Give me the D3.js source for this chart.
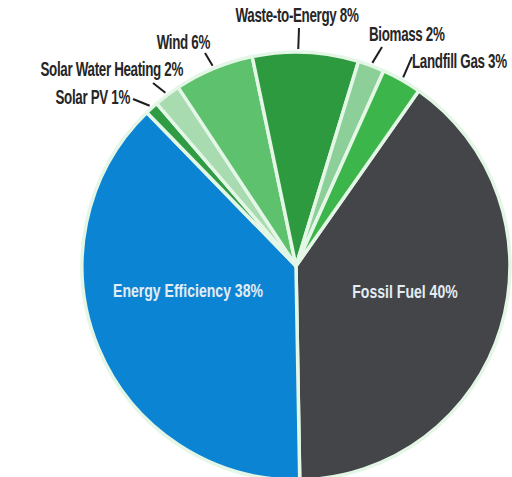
<!DOCTYPE html>
<html>
<head>
<meta charset="utf-8">
<script src="https://cdn.jsdelivr.net/npm/d3@7"></script>
<style>
  html, body { margin: 0; padding: 0; background: #ffffff; }
  svg { display: block; }
</style>
</head>
<body>
<svg id="chart" width="512" height="477"></svg>
<script>
// Energy mix shares, in drawing order (clockwise)
const categories = ["Fossil Fuel", "Energy Efficiency", "Solar PV", "Solar Water Heating",
                    "Wind", "Waste-to-Energy", "Biomass", "Landfill Gas"];
const shares = [40, 38, 1, 2, 6, 8, 2, 3];
const sliceColors = ["#434549", "#0b84d4", "#2f9c45", "#a8dbb0",
                     "#5dc16e", "#2e9a40", "#8ccf98", "#3cb54b"];

const width = 512, height = 477;
const cx = 296, cy = 266, radius = 214;
const outerSqueeze = 0.67;   // horizontal squeeze for the condensed label face
const innerSqueeze = 0.74;

const svg = d3.select("#chart");
const g = svg.append("g").attr("transform", `translate(${cx},${cy})`);

const data = categories.map((c, i) => ({ name: c, value: shares[i], color: sliceColors[i] }));

const pie = d3.pie()
  .sort(null)
  .value(d => d.value)
  .startAngle(35 * Math.PI / 180)
  .endAngle((35 + 360) * Math.PI / 180);

const arcs = pie(data);
const arc = d3.arc().innerRadius(0).outerRadius(radius);

g.selectAll("path.slice")
  .data(arcs)
  .join("path")
  .attr("class", "slice")
  .attr("d", arc)
  .attr("fill", d => d.data.color)
  .attr("stroke", "#e4f6e6")
  .attr("stroke-width", 3.5)
  .attr("stroke-linejoin", "round");

// Labels set inside the two big slices
const innerLabels = {
  "Energy Efficiency": { x: 188, y: 297 },
  "Fossil Fuel": { x: 405, y: 298 }
};

// Labels set outside the pie, joined by a short leader line
const outerLabels = {
  "Solar PV":            { x: 130, y: 104, anchor: "end",    lx: 133, ly: 99, nudge: 0 },
  "Solar Water Heating": { x: 183, y: 76,  anchor: "end",    lx: 153, ly: 83, nudge: 0 },
  "Wind":                { x: 210, y: 49,  anchor: "end",    lx: 205, ly: 53, nudge: 0 },
  "Waste-to-Energy":     { x: 297, y: 22,  anchor: "middle", lx: 299, ly: 28, nudge: -2 },
  "Biomass":             { x: 369, y: 41,  anchor: "start",  lx: 382, ly: 47, nudge: 0 },
  "Landfill Gas":        { x: 412, y: 68,  anchor: "start",  lx: 412, ly: 57, nudge: 0 }
};

function labelText(d) { return `${d.data.name} ${d.data.value}%`; }

// Leader lines: from the slice's rim out to the label
const leaderArcs = arcs.filter(d => outerLabels[d.data.name]);
svg.selectAll("line.leader")
  .data(leaderArcs)
  .join("line")
  .attr("class", "leader")
  .each(function(d) {
    const L = outerLabels[d.data.name];
    const a = (d.startAngle + d.endAngle) / 2 + L.nudge * Math.PI / 180;
    const r = radius + 3;
    d3.select(this)
      .attr("x1", cx + r * Math.sin(a))
      .attr("y1", cy - r * Math.cos(a))
      .attr("x2", L.lx)
      .attr("y2", L.ly);
  })
  .attr("stroke", "#1e1e1e")
  .attr("stroke-width", 2);

svg.selectAll("text.outer")
  .data(leaderArcs)
  .join("text")
  .attr("class", "outer")
  .attr("transform", d => {
    const L = outerLabels[d.data.name];
    return `translate(${L.x},${L.y}) scale(${outerSqueeze},1)`;
  })
  .attr("text-anchor", d => outerLabels[d.data.name].anchor)
  .attr("font-family", "'Liberation Sans Narrow', 'Liberation Sans', 'DejaVu Sans Condensed', sans-serif")
  .attr("font-weight", "bold")
  .attr("font-size", 20)
  .attr("letter-spacing", -0.5)
  .attr("fill", "#262626")
  .text(labelText);

svg.selectAll("text.inner")
  .data(arcs.filter(d => innerLabels[d.data.name]))
  .join("text")
  .attr("class", "inner")
  .attr("transform", d => {
    const L = innerLabels[d.data.name];
    return `translate(${L.x},${L.y}) scale(${innerSqueeze},1)`;
  })
  .attr("text-anchor", "middle")
  .attr("font-family", "'Liberation Sans Narrow', 'Liberation Sans', 'DejaVu Sans Condensed', sans-serif")
  .attr("font-weight", "bold")
  .attr("font-size", 19)
  .attr("fill", "#e3ecf3")
  .text(labelText);
</script>
</body>
</html>
